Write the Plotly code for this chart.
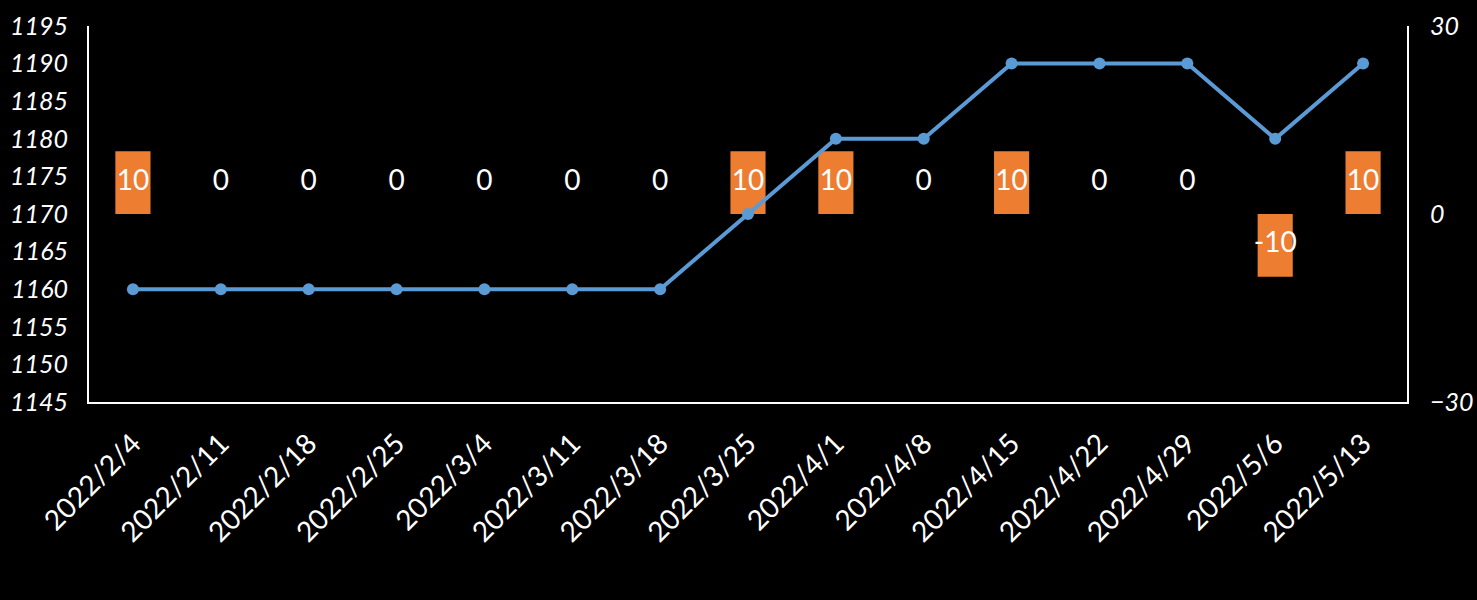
import plotly.graph_objects as go

dates = ["2022/2/4", "2022/2/11", "2022/2/18", "2022/2/25", "2022/3/4", "2022/3/11",
         "2022/3/18", "2022/3/25", "2022/4/1", "2022/4/8", "2022/4/15", "2022/4/22",
         "2022/4/29", "2022/5/6", "2022/5/13"]
price = [1160, 1160, 1160, 1160, 1160, 1160, 1160, 1170, 1180, 1180, 1190, 1190, 1190, 1180, 1190]
change = [10, 0, 0, 0, 0, 0, 0, 10, 10, 0, 10, 0, 0, -10, 10]

label_y = [v / 2 if v != 0 else 5 for v in change]

FONT = "Lato"

fig = go.Figure()
fig.add_trace(go.Bar(x=dates, y=change, width=0.4, marker=dict(color="#ED7D31", line=dict(width=0)),
                     yaxis="y", hoverinfo="skip"))
fig.add_trace(go.Scatter(x=dates, y=label_y, mode="text", text=[str(v) for v in change],
                         textposition="middle center",
                         textfont=dict(family=FONT, size=28, color="white"), yaxis="y",
                         hoverinfo="skip"))
fig.add_trace(go.Scatter(x=dates, y=price, mode="lines+markers", yaxis="y2",
                         line=dict(color="#5B9BD5", width=4),
                         marker=dict(color="#5B9BD5", size=12)))

fig.update_layout(
    width=1477, height=600,
    paper_bgcolor="black", plot_bgcolor="black",
    showlegend=False,
    margin=dict(l=89, r=70, t=26, b=198, autoexpand=False),
    font=dict(family=FONT, color="white"),
    xaxis=dict(type="category", range=[-0.5, len(dates) - 0.5], automargin=False,
               showline=True, linecolor="white", linewidth=2,
               showgrid=False, zeroline=False, tickangle=-45, ticks="",
               tickfont=dict(family=FONT, size=28, color="white"), ticklabelstandoff=12),
    yaxis=dict(side="right", range=[-30, 30], tickvals=[-30, 0, 30], showline=True,
               automargin=False,
               linecolor="white", linewidth=2, showgrid=False, zeroline=False, ticks="",
               tickfont=dict(family=FONT, size=25, color="white", style="italic"),
               ticklabelstandoff=16),
    yaxis2=dict(side="left", overlaying="y", range=[1145, 1195], dtick=5, tick0=1145,
                automargin=False,
                showline=True, linecolor="white", linewidth=2, showgrid=False, zeroline=False,
                ticks="", tickfont=dict(family=FONT, size=25, color="white", style="italic"),
                ticklabelstandoff=14),
)

fig.write_html("out.html", config={"displayModeBar": False},
               post_script="document.body.style.margin='0';document.body.style.background='black';document.body.style.overflow='hidden';")
